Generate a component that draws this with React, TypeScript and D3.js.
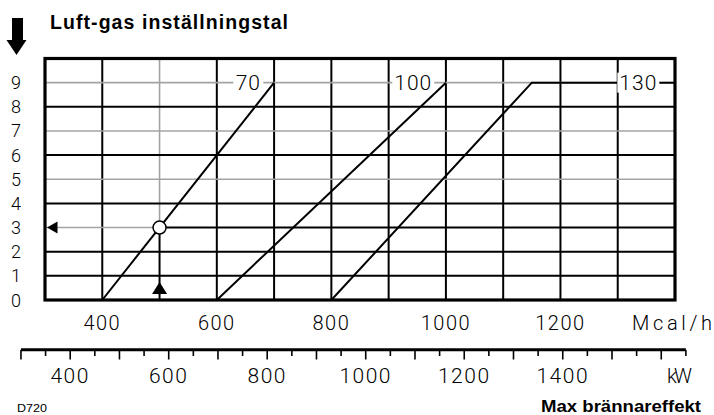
import React from "react";
import * as d3 from "d3";

// ---- data ----
const mcalDomain = [300, 1400];
const yDomain = [0, 10];
const mcalTicks = [400, 600, 800, 1000, 1200];
const mcalGrid = [400, 500, 600, 700, 800, 900, 1000, 1100, 1200, 1300];
const yTicks = [0, 1, 2, 3, 4, 5, 6, 7, 8, 9];
const yGrid = [1, 2, 3, 4, 5, 6, 7, 8, 9];
const yGridGray = [5, 7, 9];
const kwDomain = [300, 1650];
const kwMajor = [300, 400, 500, 600, 700, 800, 900, 1000, 1100, 1200, 1300, 1400, 1500, 1600];
const kwMinor = [350, 450, 550, 650, 750, 850, 950, 1050, 1150, 1250, 1350, 1450, 1550, 1650];
const kwLabels = [400, 600, 800, 1000, 1200, 1400];
const kwToMcal = 0.86;
const curveNames = ["70", "100", "130"];
const curve70: [number, number][] = [[400, 0], [700, 9]];
const curve100: [number, number][] = [[600, 0], [1000, 9]];
const curve130: [number, number][] = [[800, 0], [1150, 9], [1400, 9]];
const curveLabelX = [655, 943, 1336];
const curveLabelY = 9;
const examplePoint: [number, number] = [500, 3];

const W = 714;
const H = 415;
const GRAY = "#a3a3a3";
const THIN = "Roboto, 'DejaVu Sans', sans-serif";

export default function App() {
  const x = d3.scaleLinear().domain(mcalDomain).range([45, 675]);
  const y = d3.scaleLinear().domain(yDomain).range([300, 58.5]);
  const xKw = d3
    .scaleLinear()
    .domain(kwDomain)
    .range([x(kwDomain[0] * kwToMcal), x(kwDomain[1] * kwToMcal)]);
  const line = d3
    .line<[number, number]>()
    .x((d) => x(d[0]))
    .y((d) => y(d[1]));
  const curves = [curve70, curve100, curve130];
  const [px, py] = examplePoint;
  const cx = x(px);
  const cy = y(py);
  const r = 6.5;
  const labelW = [30, 42, 42];

  return (
    <div style={{ position: "absolute", left: 0, top: 0 }}>
      <svg width={W} height={H} style={{ display: "block", background: "#fff" }}>
        {/* title */}
        <text
          x={50}
          y={28.5}
          fontFamily="'Liberation Sans', Arial, sans-serif"
          fontWeight="bold"
          fontSize={19.5}
          textLength={238}
          lengthAdjust="spacing"
        >
          Luft-gas inställningstal
        </text>
        {/* big down arrow */}
        <rect x={12} y={18} width={11} height={23} fill="#000" />
        <polygon points="6.5,40 26.5,40 16.5,55" fill="#000" />

        {/* vertical grid */}
        {mcalGrid.map((v) =>
          v === px ? (
            <g key={v}>
              <line x1={x(v)} x2={x(v)} y1={y(10)} y2={cy - r} stroke={GRAY} strokeWidth={1.6} />
              <line x1={x(v)} x2={x(v)} y1={cy + r} y2={y(0)} stroke="#000" strokeWidth={2} />
            </g>
          ) : (
            <line key={v} x1={x(v)} x2={x(v)} y1={y(10)} y2={y(0)} stroke="#000" strokeWidth={2} />
          )
        )}
        {/* horizontal grid */}
        {yGrid.map((v) =>
          v === py ? (
            <g key={v}>
              <line x1={x(300)} x2={cx - r} y1={y(v)} y2={y(v)} stroke={GRAY} strokeWidth={1.6} />
              <line x1={cx + r} x2={x(1400)} y1={y(v)} y2={y(v)} stroke="#000" strokeWidth={2} />
            </g>
          ) : (
            <line
              key={v}
              x1={x(300)}
              x2={x(1400)}
              y1={y(v)}
              y2={y(v)}
              stroke={yGridGray.includes(v) ? GRAY : "#000"}
              strokeWidth={yGridGray.includes(v) ? 1.6 : 2}
            />
          )
        )}

        {/* curves */}
        {curves.map((c, i) => (
          <path key={i} d={line(c) || ""} fill="none" stroke="#000" strokeWidth={2} />
        ))}
        {/* curve labels */}
        {curveNames.map((n, i) => (
          <g key={n}>
            <rect
              x={x(curveLabelX[i]) - labelW[i] / 2}
              y={y(curveLabelY) - 10}
              width={labelW[i]}
              height={20}
              fill="#fff"
            />
            <text
              x={x(curveLabelX[i])}
              y={y(curveLabelY) + 7.5}
              textAnchor="middle"
              fontFamily={THIN}
              fontWeight={300}
              fontSize={21}
              letterSpacing={1}
            >
              {n}
            </text>
          </g>
        ))}

        {/* frame */}
        <rect
          x={x(300)}
          y={y(10)}
          width={x(1400) - x(300)}
          height={y(0) - y(10)}
          fill="none"
          stroke="#000"
          strokeWidth={3.2}
        />

        {/* example marker */}
        <circle cx={cx} cy={cy} r={r} fill="#fff" stroke="#000" strokeWidth={1.5} />
        <polygon
          points={`${x(300) + 2},${cy} ${x(300) + 12.5},${cy - 6} ${x(300) + 12.5},${cy + 6}`}
          fill="#000"
        />
        <polygon
          points={`${cx},${y(0) - 18} ${cx - 7.5},${y(0) - 6} ${cx + 7.5},${y(0) - 6}`}
          fill="#000"
        />

        {/* y labels */}
        {yTicks.map((v) => (
          <text
            key={v}
            x={16}
            y={y(v) + 6.5}
            textAnchor="middle"
            fontFamily={THIN}
            fontWeight={300}
            fontSize={18}
          >
            {v}
          </text>
        ))}

        {/* Mcal/h labels */}
        {mcalTicks.map((v) => (
          <text
            key={v}
            x={x(v)}
            y={329.5}
            textAnchor="middle"
            fontFamily={THIN}
            fontWeight={300}
            fontSize={20}
            letterSpacing={1.5}
          >
            {v}
          </text>
        ))}
        <text
          x={632}
          y={329.5}
          fontFamily={THIN}
          fontWeight={300}
          fontSize={20}
          textLength={80}
          lengthAdjust="spacing"
        >
          Mcal/h
        </text>

        {/* kW axis */}
        <line
          x1={xKw(kwDomain[0])}
          x2={xKw(kwDomain[1])}
          y1={349.7}
          y2={349.7}
          stroke="#000"
          strokeWidth={3}
        />
        {kwMajor.map((v) => (
          <line key={v} x1={xKw(v)} x2={xKw(v)} y1={350} y2={359.5} stroke="#000" strokeWidth={1.6} />
        ))}
        {kwMinor.map((v) => (
          <line key={v} x1={xKw(v)} x2={xKw(v)} y1={350} y2={356} stroke="#000" strokeWidth={1.6} />
        ))}
        {kwLabels.map((v) => (
          <text
            key={v}
            x={xKw(v)}
            y={383}
            textAnchor="middle"
            fontFamily={THIN}
            fontWeight={300}
            fontSize={21}
            letterSpacing={1.5}
          >
            {v}
          </text>
        ))}
        <text
          x={667}
          y={383}
          fontFamily={THIN}
          fontWeight={300}
          fontSize={20}
          textLength={25}
          lengthAdjust="spacing"
        >
          kW
        </text>

        {/* footer */}
        <text
          x={17}
          y={412}
          fontFamily="'Liberation Sans Narrow', 'Arial Narrow', 'Liberation Sans', sans-serif"
          fontSize={11}
          textLength={30}
          lengthAdjust="spacingAndGlyphs"
        >
          D720
        </text>
        <text
          x={541}
          y={412}
          fontFamily="'Liberation Sans Narrow', 'Arial Narrow', 'Liberation Sans', sans-serif"
          fontWeight="bold"
          fontSize={16}
          textLength={160}
          lengthAdjust="spacingAndGlyphs"
        >
          Max brännareffekt
        </text>
      </svg>
    </div>
  );
}
